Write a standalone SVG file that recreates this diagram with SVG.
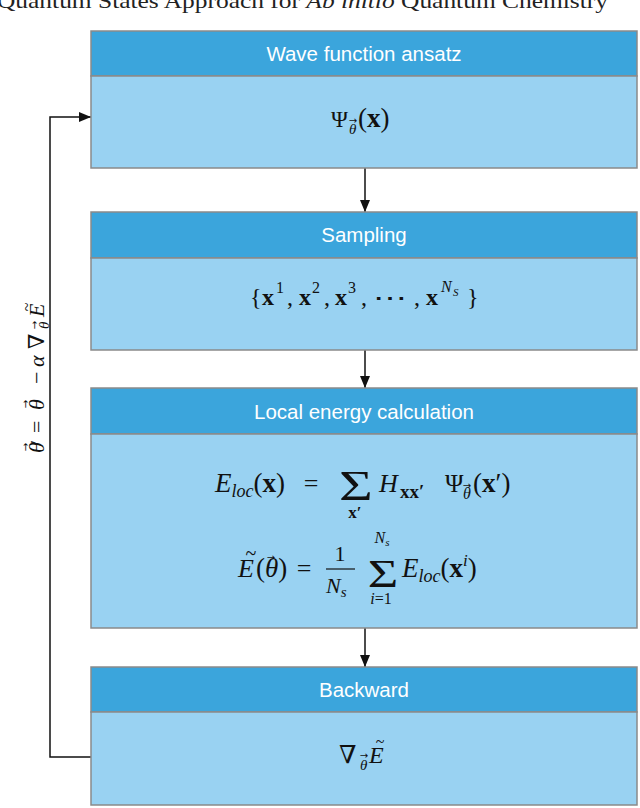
<svg xmlns="http://www.w3.org/2000/svg" width="640" height="808" viewBox="0 0 640 808">
<defs>
<style>
.hdr{fill:#3BA5DC;stroke:#8a8a8a;stroke-width:1.5}
.bdy{fill:#99D2F2;stroke:#8a8a8a;stroke-width:1.5}
.ht{font-family:"Liberation Sans",Arial,sans-serif;font-size:20.5px;fill:#fff;text-anchor:middle}
.m{font-family:"Liberation Serif","DejaVu Serif",serif;fill:#111}
.i{font-style:italic}
.b{font-weight:bold}
.va{font-family:"DejaVu Sans",sans-serif;font-size:10px;fill:#111;text-anchor:middle}
.c{text-anchor:middle}
.conn{fill:none;stroke:#111;stroke-width:1.5}
</style>
<marker id="ah" viewBox="0 0 12 10" markerWidth="12" markerHeight="10" refX="12" refY="5" orient="auto" markerUnits="userSpaceOnUse">
<path d="M0,0 L12,5 L0,10 z" fill="#111"/>
</marker>
</defs>
<rect width="640" height="808" fill="#fff"/>
<text x="-3" y="8" font-family="Liberation Serif,serif" font-size="22" fill="#222" textLength="611" lengthAdjust="spacingAndGlyphs">Quantum States Approach for <tspan font-style="italic">Ab initio</tspan> Quantum Chemistry</text>

<g id="connectors">
<path class="conn" d="M365,168 V212" marker-end="url(#ah)"/>
<path class="conn" d="M365,350 V388" marker-end="url(#ah)"/>
<path class="conn" d="M365,628 V667" marker-end="url(#ah)"/>
<path class="conn" d="M91,757 H50 V117 H91" marker-end="url(#ah)"/>
<g id="update-label" transform="translate(44,370) rotate(-90)">
<text class="m i" x="-83" y="0" font-size="22">θ</text>
<text class="m" x="-74" y="0" font-size="18">′</text>
<text class="va" x="-77" y="-15">→</text>
<text class="m" x="-63" y="0" font-size="22">=</text>
<text class="m i" x="-40" y="0" font-size="22">θ</text>
<text class="va" x="-34" y="-15">→</text>
<text class="m" x="-14" y="0" font-size="22">−</text>
<text class="m i" x="3" y="0" font-size="22">α</text>
<text class="m" x="21" y="0" font-size="22">∇</text>
<text class="m i" x="41" y="5" font-size="15">θ</text>
<text class="va" x="45" y="-6" font-size="8">→</text>
<text class="m i" x="53" y="0" font-size="22">E</text>
<text class="m" x="63" y="-12" font-size="16" text-anchor="middle">~</text>
</g>
</g>

<g id="node-ansatz">
<rect class="hdr" x="91" y="31" width="546" height="45"/>
<rect class="bdy" x="91" y="76" width="546" height="92"/>
<text class="ht" x="364" y="61">Wave function ansatz</text>
<text class="m" x="331" y="127" font-size="23">Ψ</text>
<text class="m i" x="349" y="134" font-size="15">θ</text>
<text class="va" x="353" y="124" font-size="9">→</text>
<text class="m" x="358" y="127" font-size="27">(<tspan class="b">x</tspan>)</text>
</g>

<g id="node-sampling">
<rect class="hdr" x="91" y="212" width="546" height="46"/>
<rect class="bdy" x="91" y="258" width="546" height="92"/>
<text class="ht" x="364" y="242">Sampling</text>
<text class="m" x="250" y="305" font-size="24">{</text>
<text class="m b" x="262" y="305" font-size="24">x</text>
<text class="m" x="276" y="293" font-size="16">1</text>
<text class="m" x="287" y="305" font-size="24">,</text>
<text class="m b" x="299" y="305" font-size="24">x</text>
<text class="m" x="312" y="293" font-size="16">2</text>
<text class="m" x="324" y="305" font-size="24">,</text>
<text class="m b" x="335" y="305" font-size="24">x</text>
<text class="m" x="348" y="293" font-size="16">3</text>
<text class="m" x="361" y="305" font-size="24">,</text>
<text class="m" x="373" y="305" font-size="22" textLength="34" lengthAdjust="spacingAndGlyphs">⋯</text>
<text class="m" x="414" y="305" font-size="24">,</text>
<text class="m b" x="426" y="305" font-size="24">x</text>
<text class="m i" x="441" y="292" font-size="16">N</text>
<text class="m i" x="453" y="296" font-size="11">S</text>
<text class="m" x="467" y="305" font-size="24">}</text>
</g>

<g id="node-local-energy">
<rect class="hdr" x="91" y="388" width="546" height="46"/>
<rect class="bdy" x="91" y="434" width="546" height="194"/>
<text class="ht" x="364" y="419">Local energy calculation</text>
<text class="m" x="215" y="492" font-size="27"><tspan class="i">E</tspan><tspan class="i" font-size="18" dy="5">loc</tspan><tspan dy="-5">(</tspan><tspan class="b">x</tspan>)</text>
<text class="m c" x="311" y="492" font-size="26">=</text>
<text class="m c" transform="translate(356,500) scale(1.45,1.05)" font-size="40">Σ</text>
<text class="m b c" x="355" y="518" font-size="17">x′</text>
<text class="m i" x="379" y="492" font-size="26">H</text>
<text class="m b" x="400" y="498" font-size="19">xx′</text>
<text class="m" x="445" y="492" font-size="25">Ψ</text>
<text class="m i" x="463" y="499" font-size="16">θ</text>
<text class="va" x="467" y="489" font-size="9">→</text>
<text class="m" x="473" y="492" font-size="27">(<tspan class="b">x</tspan>′)</text>

<text class="m i" x="238" y="577" font-size="26">E</text>
<text class="m c" x="251" y="560" font-size="20">~</text>
<text class="m" x="256" y="577" font-size="27">(<tspan class="i">θ</tspan>)</text>
<text class="va" x="271" y="561">→</text>
<text class="m c" x="304" y="577" font-size="26">=</text>
<text class="m c" x="340" y="561" font-size="22">1</text>
<line x1="326" y1="569" x2="355" y2="569" stroke="#111" stroke-width="1.2"/>
<text class="m i" x="326" y="593" font-size="22">N<tspan font-size="15" dy="4">s</tspan></text>
<text class="m c" transform="translate(383,587) scale(1.38,1.08)" font-size="38">Σ</text>
<text class="m i c" x="382" y="543" font-size="16">N<tspan font-size="11" dy="3">s</tspan></text>
<text class="m c" x="381" y="604" font-size="16"><tspan class="i">i</tspan>=1</text>
<text class="m" x="402" y="577" font-size="27"><tspan class="i">E</tspan><tspan class="i" font-size="18" dy="5">loc</tspan><tspan dy="-5">(</tspan><tspan class="b">x</tspan><tspan class="i" font-size="17" dy="-11">i</tspan><tspan dy="11">)</tspan></text>
</g>

<g id="node-backward">
<rect class="hdr" x="91" y="667" width="546" height="45"/>
<rect class="bdy" x="91" y="712" width="546" height="93"/>
<text class="ht" x="364" y="697">Backward</text>
<text class="m" x="339" y="763" font-size="25">∇</text>
<text class="m i" x="360" y="770" font-size="15">θ</text>
<text class="va" x="364" y="759" font-size="8">→</text>
<text class="m i" x="369" y="763" font-size="24">E</text>
<text class="m c" x="380" y="747" font-size="16">~</text>
</g>
</svg>
